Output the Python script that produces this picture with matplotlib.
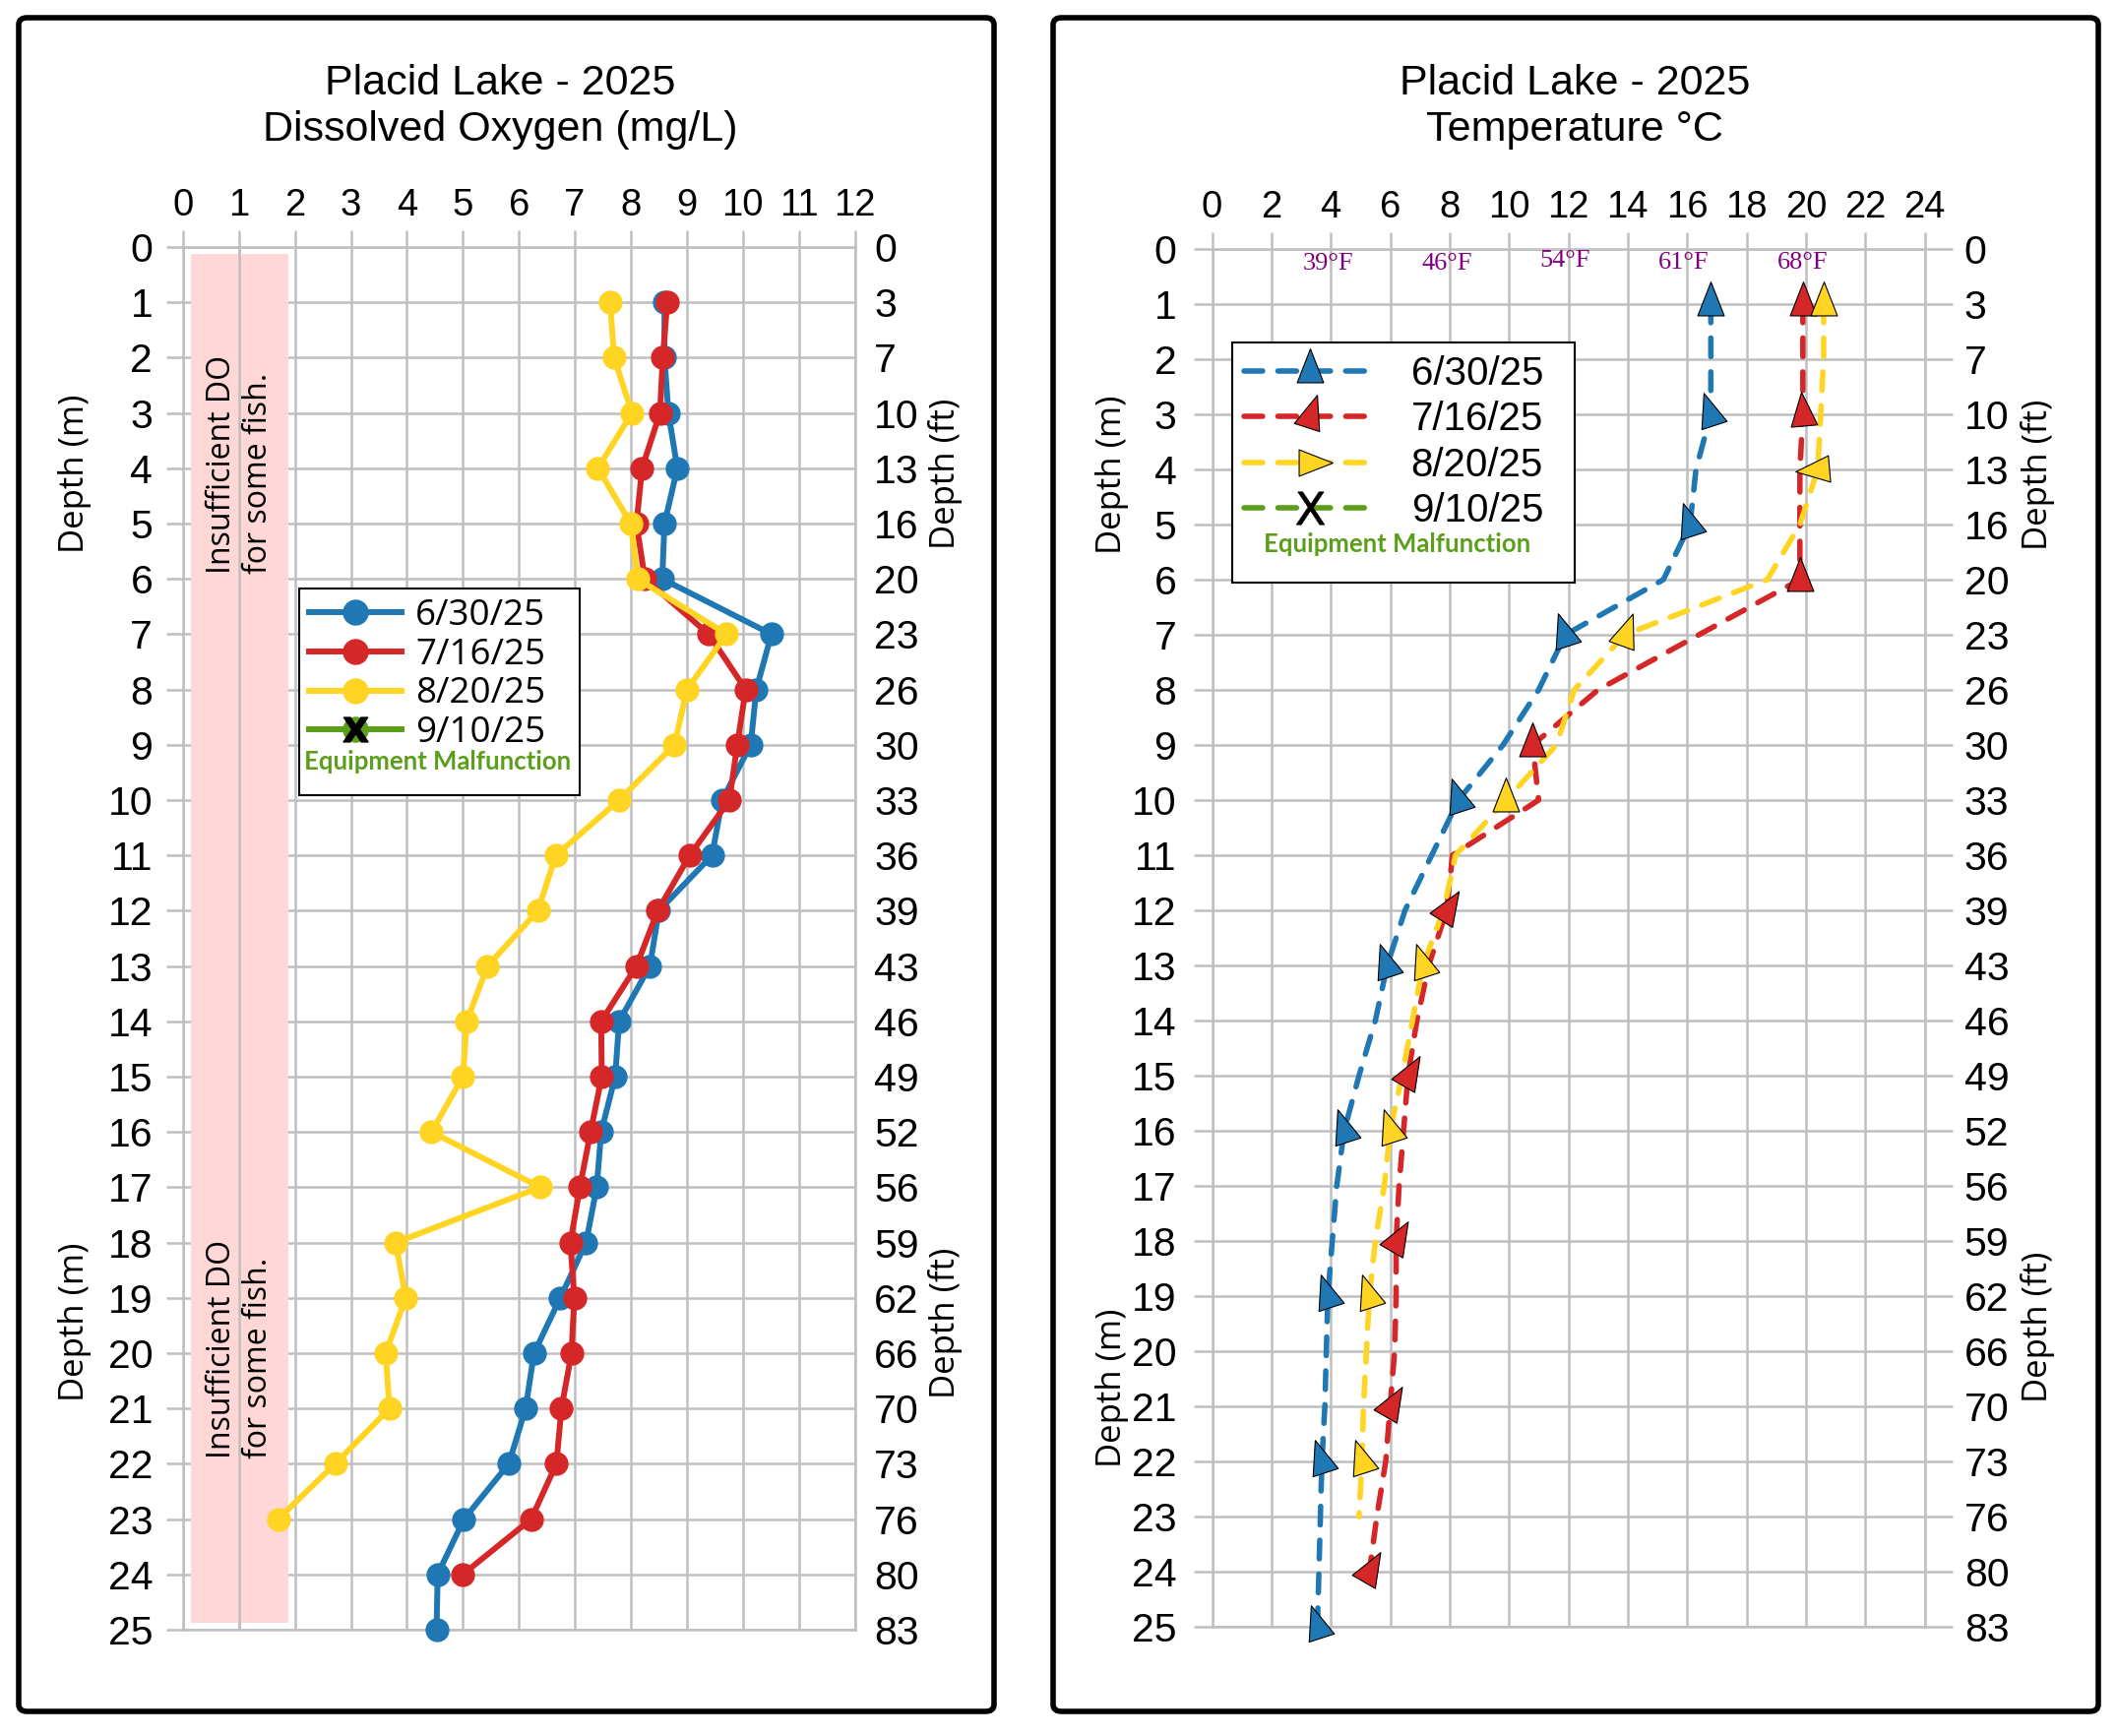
import numpy as np
import matplotlib
matplotlib.use('Agg')
import matplotlib.pyplot as plt
from matplotlib.lines import Line2D
from matplotlib.markers import MarkerStyle
from matplotlib.path import Path
from matplotlib.patches import FancyBboxPatch, Rectangle
from matplotlib.transforms import Affine2D
from matplotlib.legend_handler import HandlerTuple

# ---- data ----
dates = ['6/30/25', '7/16/25', '8/20/25', '9/10/25']
depth_ticks = list(range(26))
depth_ft = [0, 3, 7, 10, 13, 16, 20, 23, 26, 30, 33, 36, 39, 43, 46, 49, 52,
            56, 59, 62, 66, 70, 73, 76, 80, 83]

# dissolved oxygen (mg/L), one value per metre starting at 1 m
do_0630 = [8.6, 8.6, 8.67, 8.83, 8.6, 8.56, 10.51, 10.24, 10.14, 9.63, 9.45,
           8.5, 8.34, 7.79, 7.72, 7.47, 7.39, 7.2, 6.74, 6.27, 6.12, 5.82,
           5.02, 4.55, 4.53]
do_0716 = [8.65, 8.57, 8.52, 8.2, 8.1, 8.25, 9.39, 10.05, 9.9, 9.76, 9.05,
           8.48, 8.1, 7.47, 7.48, 7.28, 7.09, 6.92, 6.99, 6.94, 6.76, 6.67,
           6.22, 5.0]
do_0820 = [7.63, 7.7, 8.02, 7.41, 8.0, 8.12, 9.71, 9.0, 8.78, 7.79, 6.66,
           6.34, 5.44, 5.07, 5.0, 4.44, 6.38, 3.8, 3.98, 3.62, 3.69, 2.72, 1.7]

# temperature (C), one value per metre starting at 1 m
t_0630 = [16.8, 16.8, 16.8, 16.3, 16.1, 15.2, 11.9, 11.0, 9.8, 8.3, 7.4, 6.5,
          5.9, 5.5, 4.95, 4.45, 4.2, 4.05, 3.9, 3.85, 3.8, 3.7, 3.65, 3.6, 3.55]
t_0716 = [19.9, 19.9, 19.9, 19.8, 19.8, 19.8, 16.4, 13.0, 10.8, 11.0, 8.1,
          7.9, 7.3, 6.9, 6.6, 6.45, 6.3, 6.2, 6.2, 6.15, 6.0, 5.85, 5.55, 5.3]
t_0820 = [20.6, 20.6, 20.5, 20.4, 19.8, 18.7, 13.9, 12.2, 11.6, 9.9, 8.2,
          7.8, 7.1, 6.75, 6.4, 6.0, 5.8, 5.5, 5.3, 5.2, 5.1, 5.05, 4.95]

# depths where the arrow markers sit
mk_0630 = [1, 3, 5, 7, 10, 13, 16, 19, 22, 25]
mk_0716 = [1, 3, 6, 9, 12, 15, 18, 21, 24]
mk_0820 = [1, 4, 7, 10, 13, 16, 19, 22]

f_labels = ['39°F', '46°F', '54°F', '61°F', '68°F']
f_x = [3.9, 7.9, 11.9, 15.9, 19.9]
f_y = [0.27, 0.27, 0.22, 0.25, 0.25]

# ---- styles ----
BLUE = '#1F77B4'
RED = '#D62728'
YEL = '#FFD422'
GRN = '#5A9E1A'
GRID = '#BFBFBF'
SANS = ['Liberation Sans', 'DejaVu Sans']
HUM = ['Open Sans', 'DejaVu Sans']
DASH = (3.4, 2.8)

ang_0630 = [0, 18, 18, 18, 18, 18, 18, 18, 18, 18]
ang_0716 = [0, 5, 0, 0, -32, -30, -30, -30, -30]
ang_0820 = [0, 95, -20, 0, 18, 18, 18, 18]

tri_path = Path([(0, 1), (-0.587, -0.5), (0.587, -0.5), (0, 1)],
                [Path.MOVETO, Path.LINETO, Path.LINETO, Path.CLOSEPOLY])


def tri(angle):
    return MarkerStyle(tri_path, transform=Affine2D().rotate_deg(angle))


W, H = 2151, 1764
fig = plt.figure(figsize=(W / 100, H / 100), dpi=100)

# panel frames
for x0, x1 in [(19, 1010), (1070, 2132)]:
    fig.patches.append(FancyBboxPatch(
        (x0 / W, 1 - 1739 / H), (x1 - x0) / W, (1739 - 18) / H,
        boxstyle='round,pad=0,rounding_size=0.004', transform=fig.transFigure,
        fill=False, lw=4, ec='black'))


def setup(ax, xmax, xstep, ft_tick_len, ft_pad, left_pad, left_len):
    ax.set_xlim(0, xmax)
    ax.set_ylim(25, 0)
    ax.set_xticks(np.arange(0, xmax + 1, xstep))
    ax.set_yticks(depth_ticks)
    ax.xaxis.tick_top()
    ax.grid(True, color=GRID, lw=1.8)
    ax.set_axisbelow(True)
    for s in ax.spines.values():
        s.set_color(GRID)
        s.set_linewidth(1.8)
    ax.tick_params(axis='x', direction='out', length=12, width=1.8,
                   color=GRID, labelsize=27.5, pad=5)
    ax.tick_params(axis='y', direction='out', length=left_len, width=1.8,
                   color=GRID, labelsize=29.5, pad=left_pad)
    for lab in ax.get_xticklabels() + ax.get_yticklabels():
        lab.set_family(SANS)
    ax2 = ax.twinx()
    ax2.set_ylim(25, 0)
    ax2.set_yticks(depth_ticks)
    ax2.set_yticklabels([str(v) for v in depth_ft], family=SANS)
    ax2.tick_params(axis='y', direction='out', length=ft_tick_len, width=1.8,
                    color=GRID, labelsize=29.5, pad=ft_pad)
    for s in ax2.spines.values():
        s.set_visible(False)
    return ax2


# ================= left: dissolved oxygen =================
axL = fig.add_axes([185.8 / W, 1 - 1656 / H, (868.6 - 185.8) / W, (1656 - 251) / H])
setup(axL, 12, 1, 0, 14, 10, 12)

axL.add_patch(Rectangle((0.15, 0.12), 1.73, 24.75, color='#FFD7D7', lw=0, zorder=1.5))
axL.axvline(1, color=GRID, lw=1.8, zorder=1.6)
for yb in [5.9, 21.9]:
    axL.text(1.02, yb, 'Insufficient DO\nfor some fish.', rotation=90,
             ha='center', va='bottom', multialignment='left', fontsize=23,
             family=HUM, linespacing=1.15, zorder=3)

for vals, col in [(do_0630, BLUE), (do_0716, RED), (do_0820, YEL)]:
    d = np.arange(1, len(vals) + 1)
    axL.plot(vals, d, color=col, lw=4.3, marker='o', ms=16.5, mec=col,
             zorder=4, clip_on=False)

hL = [Line2D([], [], color=BLUE, lw=4.3, marker='o', ms=18),
      Line2D([], [], color=RED, lw=4.3, marker='o', ms=18),
      Line2D([], [], color=YEL, lw=4.3, marker='o', ms=18),
      (Line2D([], [], color=GRN, lw=4.3, marker='o', ms=18),
       Line2D([], [], ls='none', color='black', marker=r'$\mathbf{X}$', ms=18)),
      Line2D([], [], alpha=0)]
legL = axL.legend(hL, dates + [' '], loc='upper left', mode='expand',
                  bbox_to_anchor=(2.08 / 12, 1 - 9.67 / 25, 5.0 / 12, 3.5 / 25),
                  borderaxespad=0, fancybox=False, edgecolor='black',
                  framealpha=1, prop={'family': HUM, 'size': 26.5},
                  handlelength=2.55, handletextpad=0.38, labelspacing=0.1,
                  borderpad=0.28, handler_map={tuple: HandlerTuple(ndivide=1)})
legL.get_texts()[4].set_fontsize(15)
legL.get_frame().set_linewidth(1.5)
legL.set_zorder(5)
axL.text(2.16, 9.3, 'Equipment Malfunction', color=GRN, fontsize=18.5,
         fontweight='bold', family=['Lato', 'DejaVu Sans'], va='center',
         zorder=6)

for x, y in [(76, 481), (76, 1343)]:
    fig.text(x / W, 1 - y / H, 'Depth (m)', rotation=90, ha='center',
             va='center', fontsize=25, family=HUM)
for x, y in [(961, 481), (961, 1344)]:
    fig.text(x / W, 1 - y / H, 'Depth (ft)', rotation=90, ha='center',
             va='center', fontsize=25, family=HUM)

fig.text(508 / W, 1 - 96 / H, 'Placid Lake - 2025', ha='center',
         va='baseline', fontsize=31, family=SANS)
fig.text(508 / W, 1 - 143 / H, 'Dissolved Oxygen (mg/L)', ha='center',
         va='baseline', fontsize=31, family=SANS)

# ================= right: temperature =================
axR = fig.add_axes([1231.5 / W, 1 - 1653 / H, (1955.5 - 1231.5) / W, (1653 - 253) / H])
setup(axR, 24, 2, 20, 9, 12, 14)

series = [(t_0630, mk_0630, ang_0630, BLUE),
          (t_0716, mk_0716, ang_0716, RED),
          (t_0820, mk_0820, ang_0820, YEL)]
for vals, mks, angs, col in series:
    d = np.arange(1, len(vals) + 1)
    axR.plot(vals, d, color=col, lw=4, dashes=DASH,
             dash_capstyle='round', zorder=3)
    for m, a in zip(mks, angs):
        axR.plot([vals[m - 1]], [m], ls='none', marker=tri(a), ms=33,
                 mfc=col, mec='black', mew=0.8, zorder=4, clip_on=False)

for lab, x, y in zip(f_labels, f_x, f_y):
    axR.text(x, y, lab, color='#800080', fontsize=19,
             family=['Liberation Serif', 'DejaVu Serif'], ha='center',
             va='center', zorder=5)

hR = [Line2D([], [], color=BLUE, lw=4, dashes=DASH, dash_capstyle='round',
             marker=tri(0), ms=33, mfc=BLUE, mec='black', mew=0.8),
      Line2D([], [], color=RED, lw=4, dashes=DASH, dash_capstyle='round',
             marker=tri(-18), ms=33, mfc=RED, mec='black', mew=0.8),
      Line2D([], [], color=YEL, lw=4, dashes=DASH, dash_capstyle='round',
             marker=tri(-90), ms=33, mfc=YEL, mec='black', mew=0.8),
      Line2D([], [], color=GRN, lw=4, dashes=DASH, dash_capstyle='round',
             marker=r'$\mathrm{X}$', ms=24, mfc='black', mec='black', mew=0.5),
      Line2D([], [], alpha=0)]
legR = axR.legend(hR, dates + [' '], loc='upper left', mode='expand',
                  bbox_to_anchor=(0.68 / 24, 1 - 5.88 / 25, 11.52 / 24, 4.18 / 25),
                  borderaxespad=0, fancybox=False, edgecolor='black',
                  framealpha=1, prop={'family': SANS, 'size': 29},
                  handlelength=3.3, handletextpad=0.9, labelspacing=0.21,
                  borderpad=0.31)
legR.get_texts()[4].set_fontsize(17)
legR.get_frame().set_linewidth(1.5)
legR.set_zorder(5)
axR.text(1.75, 5.35, 'Equipment Malfunction', color=GRN, fontsize=18.5,
         fontweight='bold', family=['Lato', 'DejaVu Sans'], va='center',
         zorder=6)

for x, y in [(1130, 482), (1130, 1410)]:
    fig.text(x / W, 1 - y / H, 'Depth (m)', rotation=90, ha='center',
             va='center', fontsize=25, family=HUM)
for x, y in [(2070, 482), (2070, 1348)]:
    fig.text(x / W, 1 - y / H, 'Depth (ft)', rotation=90, ha='center',
             va='center', fontsize=25, family=HUM)

fig.text(1600 / W, 1 - 96 / H, 'Placid Lake - 2025', ha='center',
         va='baseline', fontsize=31, family=SANS)
fig.text(1600 / W, 1 - 143 / H, 'Temperature °C', ha='center',
         va='baseline', fontsize=31, family=SANS)

fig.savefig('out.png', dpi=100, facecolor='white')
